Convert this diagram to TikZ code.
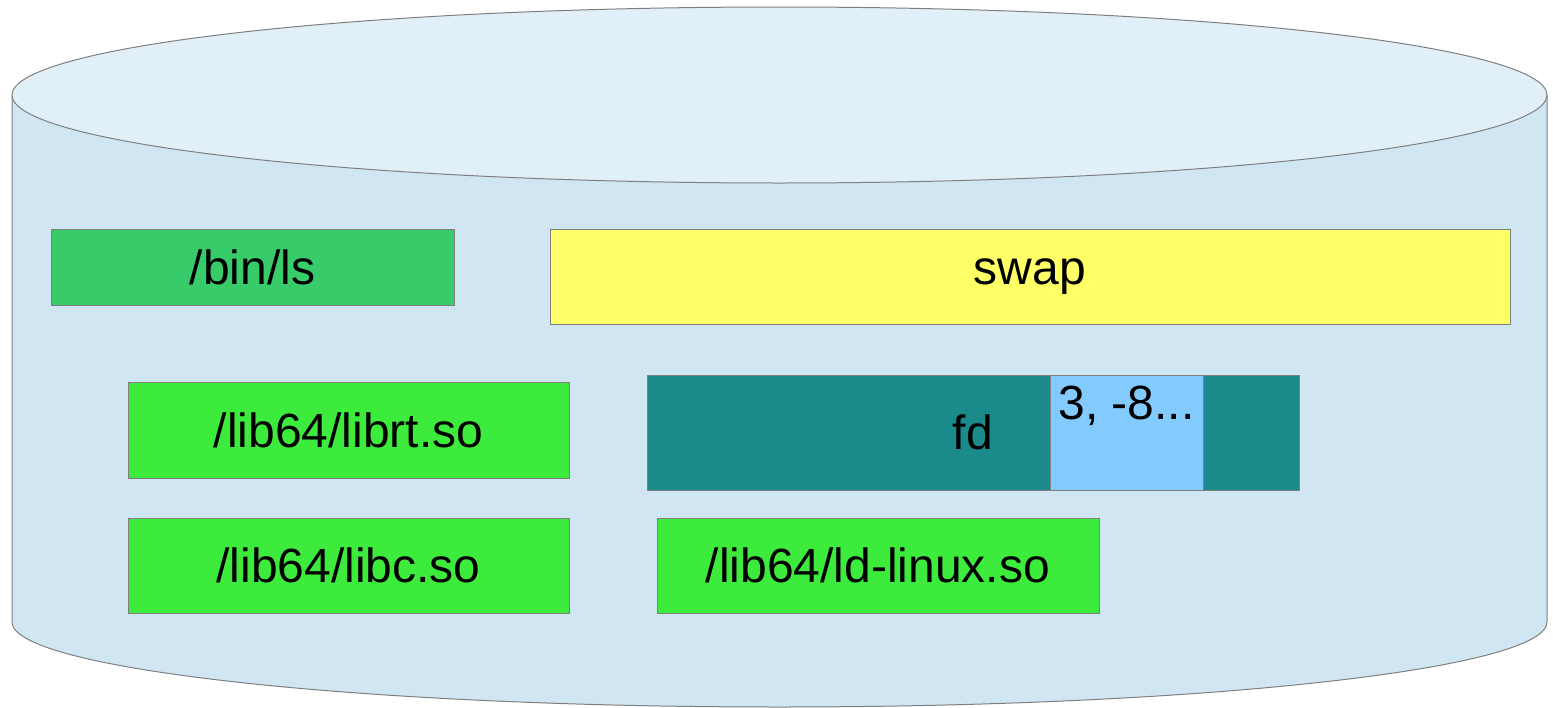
\documentclass[tikz,border=0pt]{standalone}
\usepackage{fontspec}
\setmainfont{Liberation Sans}
\definecolor{drumside}{HTML}{D0E6F3}
\definecolor{drumtop}{HTML}{E1EFF8}
\definecolor{edge}{HTML}{7F7F7F}
\definecolor{binfill}{HTML}{37CB6A}
\definecolor{libfill}{HTML}{3DEB3D}
\definecolor{swapfill}{HTML}{FFFF66}
\definecolor{fdfill}{HTML}{1A8A8A}
\definecolor{slotfill}{HTML}{83CAFF}
\tikzset{
  blk/.style={draw=edge, line width=0.9pt, rectangle, inner sep=0pt,
    font=\fontsize{48}{56}\selectfont, text=black},
}
\begin{document}
\begin{tikzpicture}[x=1pt, y=-1pt]
\useasboundingbox (0,0) rectangle (1553,707);
% disk drum: body and lid
\fill[drumside] (12,95) -- (12,622) arc[start angle=180, end angle=360, x radius=767.5, y radius=-85]
  -- (1547,95) -- cycle;
\draw[edge, line width=1pt] (12,95) -- (12,622) arc[start angle=180, end angle=360, x radius=767.5, y radius=-85]
  -- (1547,95);
\draw[edge, line width=1pt, fill=drumtop] (779.5,95) ellipse[x radius=767.5, y radius=88];
% files on the disk
\node[blk, fill=binfill, minimum width=403pt, minimum height=76pt] (bin) at (252.5,267) {/bin/ls};
\node[blk, fill=swapfill, minimum width=960pt, minimum height=95pt] (swap) at (1030,276.5) {swap};
\node[blk, fill=libfill, minimum width=441pt, minimum height=96pt] (librt) at (348.5,430) {/lib64/librt.so};
\node[blk, fill=fdfill, minimum width=652pt, minimum height=115pt] (fd) at (973,432.5) {fd};
\node[blk, fill=slotfill, minimum width=153pt, minimum height=115pt, anchor=north] (slot) at (1126.5,375) {};
\node[anchor=north, font=\fontsize{48}{56}\selectfont, inner sep=0pt] (slotval) at ([yshift=-11pt]slot.north) {3, -8...};
\node[blk, fill=libfill, minimum width=441pt, minimum height=95pt] (libc) at (348.5,565.5) {/lib64/libc.so};
\node[blk, fill=libfill, minimum width=442pt, minimum height=95pt] (ld) at (878,565.5) {/lib64/ld-linux.so};
\end{tikzpicture}
\end{document}
